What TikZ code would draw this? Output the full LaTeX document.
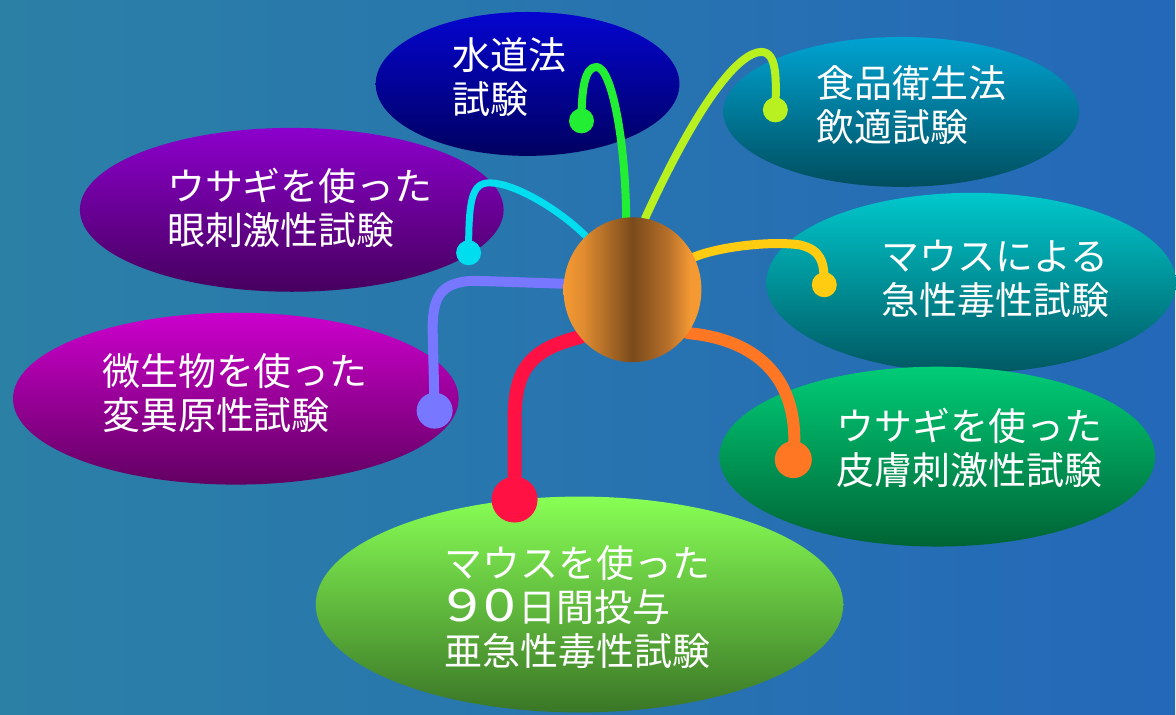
\documentclass[tikz,border=0pt]{standalone}
\usepackage{fontspec}
\usepackage{graphicx}
\newfontfamily\jp{Noto Sans CJK JP}
\usetikzlibrary{shapes.geometric}
\definecolor{bgL}{HTML}{2B80A6}
\definecolor{bgR}{HTML}{2468B9}
\definecolor{waterT}{HTML}{0505D0}
\definecolor{waterB}{HTML}{000060}
\definecolor{foodT}{HTML}{00A3D2}
\definecolor{foodB}{HTML}{004E5E}
\definecolor{eyeT}{HTML}{8C00CC}
\definecolor{eyeB}{HTML}{46005E}
\definecolor{acuteT}{HTML}{00C8CC}
\definecolor{acuteB}{HTML}{005862}
\definecolor{microT}{HTML}{CC00CC}
\definecolor{microB}{HTML}{620062}
\definecolor{skinT}{HTML}{00CC77}
\definecolor{skinB}{HTML}{006334}
\definecolor{subT}{HTML}{88FF55}
\definecolor{subB}{HTML}{3A7626}
\definecolor{wGreen}{HTML}{22EE33}
\definecolor{wLime}{HTML}{B8F020}
\definecolor{wCyan}{HTML}{00DDEE}
\definecolor{wPeri}{HTML}{7777FF}
\definecolor{wYellow}{HTML}{FFCC11}
\definecolor{wOrange}{HTML}{FF7722}
\definecolor{wRed}{HTML}{FF1144}
\definecolor{sphO}{HTML}{F59A33}
\definecolor{sphO2}{HTML}{E08C30}
\definecolor{sphB}{HTML}{7A4A1C}
\definecolor{sphC}{HTML}{B8702A}
\pgfdeclarehorizontalshading{sphereshade}{100bp}{color(0bp)=(sphO); color(25bp)=(sphO); color(32bp)=(sphO2); color(50bp)=(sphB); color(63bp)=(sphC); color(71bp)=(sphO); color(75bp)=(sphO); color(100bp)=(sphO)}
\pgfdeclarelayer{bg}
\pgfdeclarelayer{wires}
\pgfsetlayers{bg,wires,main}
\tikzset{
  bubble/.style={ellipse, inner sep=0pt, draw=none},
  bubtext/.style={text=white, font=\jp\fontsize{38}{44}\selectfont, align=left, anchor=west, inner sep=0pt},
  wire/.style={line cap=round, line join=round},
  knob/.style={circle, inner sep=0pt, draw=none}
}
\newcommand\bigdigit[1]{\makebox[37pt][c]{\scalebox{1.55}[1.18]{#1}}}
\begin{document}
\begin{tikzpicture}[x=1pt,y=-1pt]
\begin{pgfonlayer}{bg}
\shade[left color=bgL, right color=bgR] (0,0) rectangle (1176,715);
\node[bubble, minimum width=304pt, minimum height=144pt, top color=waterT, bottom color=waterB] (water) at (528,84) {};
\node[bubble, minimum width=356pt, minimum height=150pt, top color=foodT, bottom color=foodB] (food) at (902,112) {};
\node[bubble, minimum width=424pt, minimum height=164pt, top color=eyeT, bottom color=eyeB] (eye) at (292,210) {};
\node[bubble, minimum width=410pt, minimum height=180pt, top color=acuteT, bottom color=acuteB] (acute) at (972,283) {};
\node[bubble, minimum width=446pt, minimum height=172pt, top color=microT, bottom color=microB] (micro) at (236,399) {};
\node[bubble, minimum width=436pt, minimum height=180pt, top color=skinT, bottom color=skinB] (skin) at (938,457) {};
\node[bubble, minimum width=528pt, minimum height=216pt, top color=subT, bottom color=subB] (sub) at (580,605) {};
\end{pgfonlayer}
\useasboundingbox (0,0) rectangle (1176,715);

\node[ellipse, minimum width=138pt, minimum height=145pt, inner sep=0pt, shading=sphereshade] (hub) at (633,290) {};

\node[knob, fill=wGreen, minimum size=25pt] (gdot) at (582,121) {};
\node[knob, fill=wLime, minimum size=25pt] (ldot) at (776,110) {};
\node[knob, fill=wCyan, minimum size=25pt] (cdot) at (469,253) {};
\node[knob, fill=wPeri, minimum size=36pt] (pdot) at (435,411) {};
\node[knob, fill=wYellow, minimum size=25pt] (ydot) at (825,285) {};
\node[knob, fill=wOrange, minimum size=37pt] (odot) at (794,460) {};
\node[knob, fill=wRed, minimum size=46pt] (rdot) at (515,500) {};

\begin{pgfonlayer}{wires}
\draw[wire, wGreen, line width=8pt] (hub.95) .. controls (626,140) and (612,67) .. (597,67) .. controls (585,67) and (582,90) .. (gdot.center);
\draw[wire, wLime, line width=8pt] (hub.80) .. controls (700,100) and (740,52) .. (762,52) .. controls (778,52) and (777,80) .. (ldot.center);
\draw[wire, wCyan, line width=7pt] (hub.131) .. controls (560,210) and (515,183) .. (490,183) .. controls (472,183) and (469,200) .. (cdot.center);
\draw[wire, wPeri, line width=10pt] (hub.175) -- (475,281) .. controls (440,282) and (433,298) .. (433,330) -- (pdot.center);
\draw[wire, wYellow, line width=9pt] (hub.28) .. controls (720,247) and (770,241) .. (800,245) .. controls (822,250) and (825,262) .. (ydot.center);
\draw[wire, wOrange, line width=12pt] (hub.-38) .. controls (760,340) and (795,380) .. (795,440) -- (odot.center);
\draw[wire, wRed, line width=14pt] (hub.222) .. controls (530,350) and (515,370) .. (515,420) -- (rdot.center);
\end{pgfonlayer}

\node[bubtext] (waterT) at (453,77) {水道法\\試験};
\node[bubtext] (foodT) at (817,105) {食品衛生法\\飲適試験};
\node[bubtext] (eyeT) at (167,208) {ウサギを使った\\眼刺激性試験};
\node[bubtext] (acuteT) at (882,279) {マウスによる\\急性毒性試験};
\node[bubtext] (microT) at (102,393) {微生物を使った\\変異原性試験};
\node[bubtext] (skinT) at (837,448) {ウサギを使った\\皮膚刺激性試験};
\node[bubtext] (subT) at (445,608) {マウスを使った\\\bigdigit{9}\bigdigit{0}日間投与\\亜急性毒性試験};
\end{tikzpicture}
\end{document}
